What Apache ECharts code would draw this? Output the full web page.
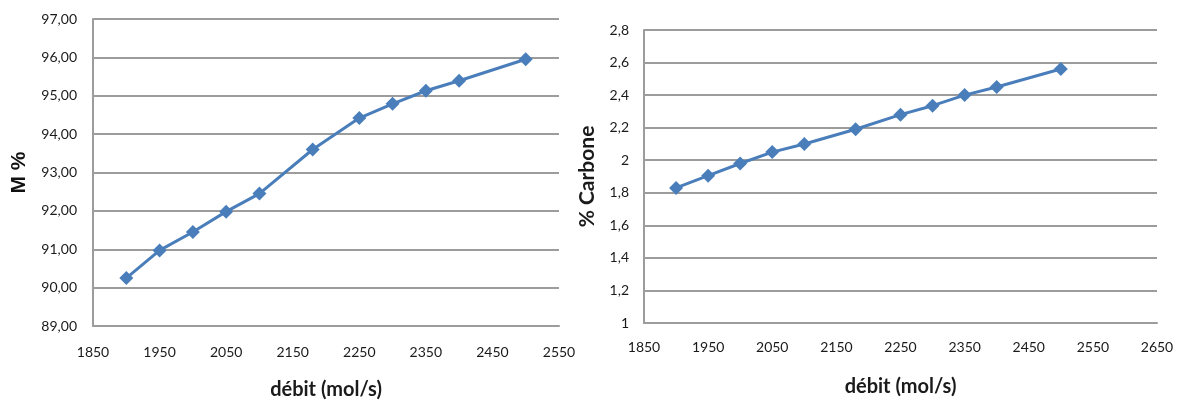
<!DOCTYPE html>
<html>
<head>
<meta charset="utf-8">
<script src="https://cdn.jsdelivr.net/npm/echarts@6/dist/echarts.min.js"></script>
<style>
html,body{margin:0;padding:0;background:#fff;}
#chart{width:1183px;height:403px;}
</style>
</head>
<body>
<div id="chart"></div>
<script>
const debit = [1900, 1950, 2000, 2050, 2100, 2180, 2250, 2300, 2350, 2400, 2500];
const mPct = [90.25, 90.97, 91.45, 91.98, 92.45, 93.6, 94.42, 94.79, 95.13, 95.39, 95.95];
const carbone = [1.83, 1.905, 1.98, 2.05, 2.1, 2.19, 2.28, 2.335, 2.4, 2.45, 2.56];
const xTitle = 'débit (mol/s)';
const yTitleLeft = 'M %';
const yTitleRight = '% Carbone';

const FONT = 'Lato';
const gridColor = '#9c9c9c';
const lineColor = '#4a7ebb';
const labelStyle = {fontFamily: FONT, fontSize: 14, color: '#1a1a1a'};
const nameStyle = {fontFamily: FONT, fontSize: 20, fontWeight: 'bold', color: '#1a1a1a'};

const chart = echarts.init(document.getElementById('chart'));
function xAxis(gi, max, margin) {
  return {
    gridIndex: gi, type: 'value', min: 1850, max: max, interval: 100,
    name: xTitle, nameLocation: 'middle', nameGap: 54, nameTextStyle: nameStyle,
    axisLine: {show: true, lineStyle: {color: gridColor, width: 2}},
    axisTick: {show: false},
    splitLine: {show: false},
    axisLabel: Object.assign({margin: margin, formatter: v => String(v)}, labelStyle)
  };
}
chart.setOption({
  animation: false,
  grid: [
    {left: 93, right: 624, top: 19, bottom: 77, containLabel: false, outerBoundsMode: 'none'},
    {left: 644, right: 26, top: 30, bottom: 80, containLabel: false, outerBoundsMode: 'none'}
  ],
  xAxis: [xAxis(0, 2550, 19), xAxis(1, 2650, 17)],
  yAxis: [
    {
      gridIndex: 0, type: 'value', min: 89, max: 97, interval: 1,
      name: yTitleLeft, nameLocation: 'middle', nameGap: 63,
      nameTextStyle: {fontFamily: 'Liberation Sans', fontSize: 21, fontWeight: 'bold', color: '#111'},
      axisLine: {show: true, lineStyle: {color: gridColor, width: 2}},
      axisTick: {show: false},
      splitLine: {show: true, lineStyle: {color: gridColor, width: 2}},
      axisLabel: Object.assign({margin: 16, formatter: v => v.toFixed(2).replace('.', ',')}, labelStyle)
    },
    {
      gridIndex: 1, type: 'value', min: 1, max: 2.8, interval: 0.2,
      name: yTitleRight, nameLocation: 'middle', nameGap: 46,
      nameTextStyle: Object.assign({}, nameStyle, {fontSize: 21}),
      axisLine: {show: true, lineStyle: {color: gridColor, width: 2}},
      axisTick: {show: false},
      splitLine: {show: true, lineStyle: {color: gridColor, width: 2}},
      axisLabel: Object.assign({margin: 15, formatter: v => String(Math.round(v * 10) / 10).replace('.', ',')}, labelStyle)
    }
  ],
  series: [
    {
      type: 'line', xAxisIndex: 0, yAxisIndex: 0,
      data: debit.map((d, i) => [d, mPct[i]]),
      symbol: 'diamond', symbolSize: 14,
      lineStyle: {color: lineColor, width: 3},
      itemStyle: {color: lineColor}
    },
    {
      type: 'line', xAxisIndex: 1, yAxisIndex: 1,
      data: debit.map((d, i) => [d, carbone[i]]),
      symbol: 'diamond', symbolSize: 14,
      lineStyle: {color: lineColor, width: 3},
      itemStyle: {color: lineColor}
    }
  ]
});
</script>
</body>
</html>
